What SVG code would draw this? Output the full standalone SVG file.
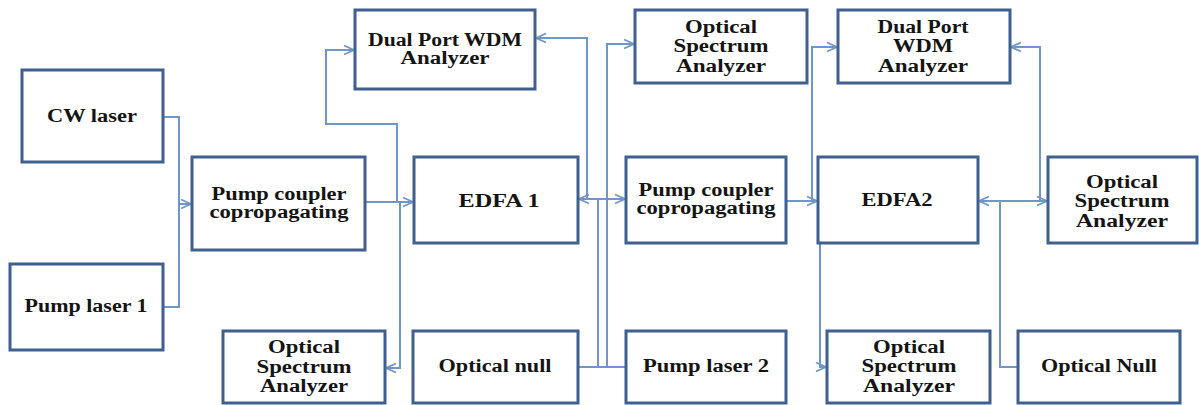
<svg xmlns="http://www.w3.org/2000/svg" width="1199" height="405" viewBox="0 0 1199 405">
<style>
.box{fill:#fff;stroke:#3f5f8f;stroke-width:3}
.t{font-family:"Liberation Serif","Times New Roman",serif;font-weight:bold;font-size:18px;fill:#141414;text-anchor:middle}
.c{fill:none;stroke:#6f95c9;stroke-width:2}
</style>
<defs>
<marker id="a" markerWidth="14" markerHeight="14" refX="11" refY="6" orient="auto-start-reverse" markerUnits="userSpaceOnUse">
<path d="M1,1.5 L11,6 L1,10.5" fill="none" stroke="#6f95c9" stroke-width="1.8"/>
</marker>
</defs>
<rect width="1199" height="405" fill="#fff"/>
<g id="connectors">
<path class="c" d="M163,117 H179 V307 H163"/>
<path class="c" d="M179,204 H191" marker-end="url(#a)"/>
<path class="c" d="M365,202 H413" marker-end="url(#a)"/>
<path class="c" d="M397,202 V124 H326 V50 H354" marker-end="url(#a)"/>
<path class="c" d="M400,202 V368 H386" marker-end="url(#a)"/>
<path class="c" d="M579,199 H625" marker-start="url(#a)" marker-end="url(#a)"/>
<path class="c" d="M587,199 V38 H536" marker-end="url(#a)"/>
<path class="c" d="M607,199 V44 H634" marker-end="url(#a)"/>
<path class="c" d="M598,199 V367 M607,199 V367 M578,367 H626"/>
<path class="c" d="M786,201 H817" marker-end="url(#a)"/>
<path class="c" d="M812,201 V47 H837" marker-end="url(#a)"/>
<path class="c" d="M820,243 V367 H826" marker-end="url(#a)"/>
<path class="c" d="M979,201 H1047" marker-start="url(#a)" marker-end="url(#a)"/>
<path class="c" d="M1040,201 V47 H1011" marker-end="url(#a)"/>
<path class="c" d="M1000,201 V367 H1018"/>
</g>
<g id="cw-laser"><rect class="box" x="22" y="70" width="141" height="92"/><text class="t" x="92" y="122" textLength="90" lengthAdjust="spacingAndGlyphs">CW laser</text></g>
<g id="pump-laser-1"><rect class="box" x="10" y="264" width="153" height="86"/><text class="t" x="86" y="312" textLength="123" lengthAdjust="spacingAndGlyphs">Pump laser 1</text></g>
<g id="pump-coupler-1"><rect class="box" x="192" y="157" width="173" height="93"/><text class="t" x="279" y="200" textLength="135" lengthAdjust="spacingAndGlyphs">Pump coupler</text><text class="t" x="279" y="218" textLength="139" lengthAdjust="spacingAndGlyphs">copropagating</text></g>
<g id="wdm-1"><rect class="box" x="355" y="10" width="180" height="79"/><text class="t" x="445" y="46" textLength="154" lengthAdjust="spacingAndGlyphs">Dual Port WDM</text><text class="t" x="445" y="64" textLength="89" lengthAdjust="spacingAndGlyphs">Analyzer</text></g>
<g id="edfa-1"><rect class="box" x="414" y="157" width="164" height="86"/><text class="t" x="499" y="207" textLength="81" lengthAdjust="spacingAndGlyphs">EDFA 1</text></g>
<g id="osa-top"><rect class="box" x="635" y="10" width="172" height="73"/><text class="t" x="721" y="33" textLength="72" lengthAdjust="spacingAndGlyphs">Optical</text><text class="t" x="721" y="52" textLength="95" lengthAdjust="spacingAndGlyphs">Spectrum</text><text class="t" x="721" y="72" textLength="90" lengthAdjust="spacingAndGlyphs">Analyzer</text></g>
<g id="pump-coupler-2"><rect class="box" x="626" y="157" width="160" height="86"/><text class="t" x="706" y="196" textLength="135" lengthAdjust="spacingAndGlyphs">Pump coupler</text><text class="t" x="706" y="214" textLength="139" lengthAdjust="spacingAndGlyphs">copropagating</text></g>
<g id="wdm-2"><rect class="box" x="838" y="10" width="172" height="73"/><text class="t" x="923" y="33" textLength="91" lengthAdjust="spacingAndGlyphs">Dual Port</text><text class="t" x="923" y="52" textLength="60" lengthAdjust="spacingAndGlyphs">WDM</text><text class="t" x="923" y="72" textLength="90" lengthAdjust="spacingAndGlyphs">Analyzer</text></g>
<g id="edfa-2"><rect class="box" x="818" y="157" width="160" height="86"/><text class="t" x="897" y="206" textLength="71" lengthAdjust="spacingAndGlyphs">EDFA2</text></g>
<g id="osa-right"><rect class="box" x="1048" y="157" width="149" height="86"/><text class="t" x="1122" y="188" textLength="72" lengthAdjust="spacingAndGlyphs">Optical</text><text class="t" x="1122" y="207" textLength="95" lengthAdjust="spacingAndGlyphs">Spectrum</text><text class="t" x="1122" y="227" textLength="92" lengthAdjust="spacingAndGlyphs">Analyzer</text></g>
<g id="osa-bottom-left"><rect class="box" x="223" y="331" width="162" height="72"/><text class="t" x="304" y="353" textLength="72" lengthAdjust="spacingAndGlyphs">Optical</text><text class="t" x="304" y="373" textLength="95" lengthAdjust="spacingAndGlyphs">Spectrum</text><text class="t" x="304" y="392" textLength="88" lengthAdjust="spacingAndGlyphs">Analyzer</text></g>
<g id="optical-null-1"><rect class="box" x="413" y="331" width="165" height="72"/><text class="t" x="495" y="372" textLength="113" lengthAdjust="spacingAndGlyphs">Optical null</text></g>
<g id="pump-laser-2"><rect class="box" x="626" y="331" width="160" height="72"/><text class="t" x="706" y="372" textLength="126" lengthAdjust="spacingAndGlyphs">Pump laser 2</text></g>
<g id="osa-bottom-right"><rect class="box" x="827" y="331" width="163" height="72"/><text class="t" x="909" y="353" textLength="72" lengthAdjust="spacingAndGlyphs">Optical</text><text class="t" x="909" y="372" textLength="95" lengthAdjust="spacingAndGlyphs">Spectrum</text><text class="t" x="909" y="392" textLength="92" lengthAdjust="spacingAndGlyphs">Analyzer</text></g>
<g id="optical-null-2"><rect class="box" x="1018" y="331" width="162" height="72"/><text class="t" x="1099" y="372" textLength="116" lengthAdjust="spacingAndGlyphs">Optical Null</text></g>
</svg>
